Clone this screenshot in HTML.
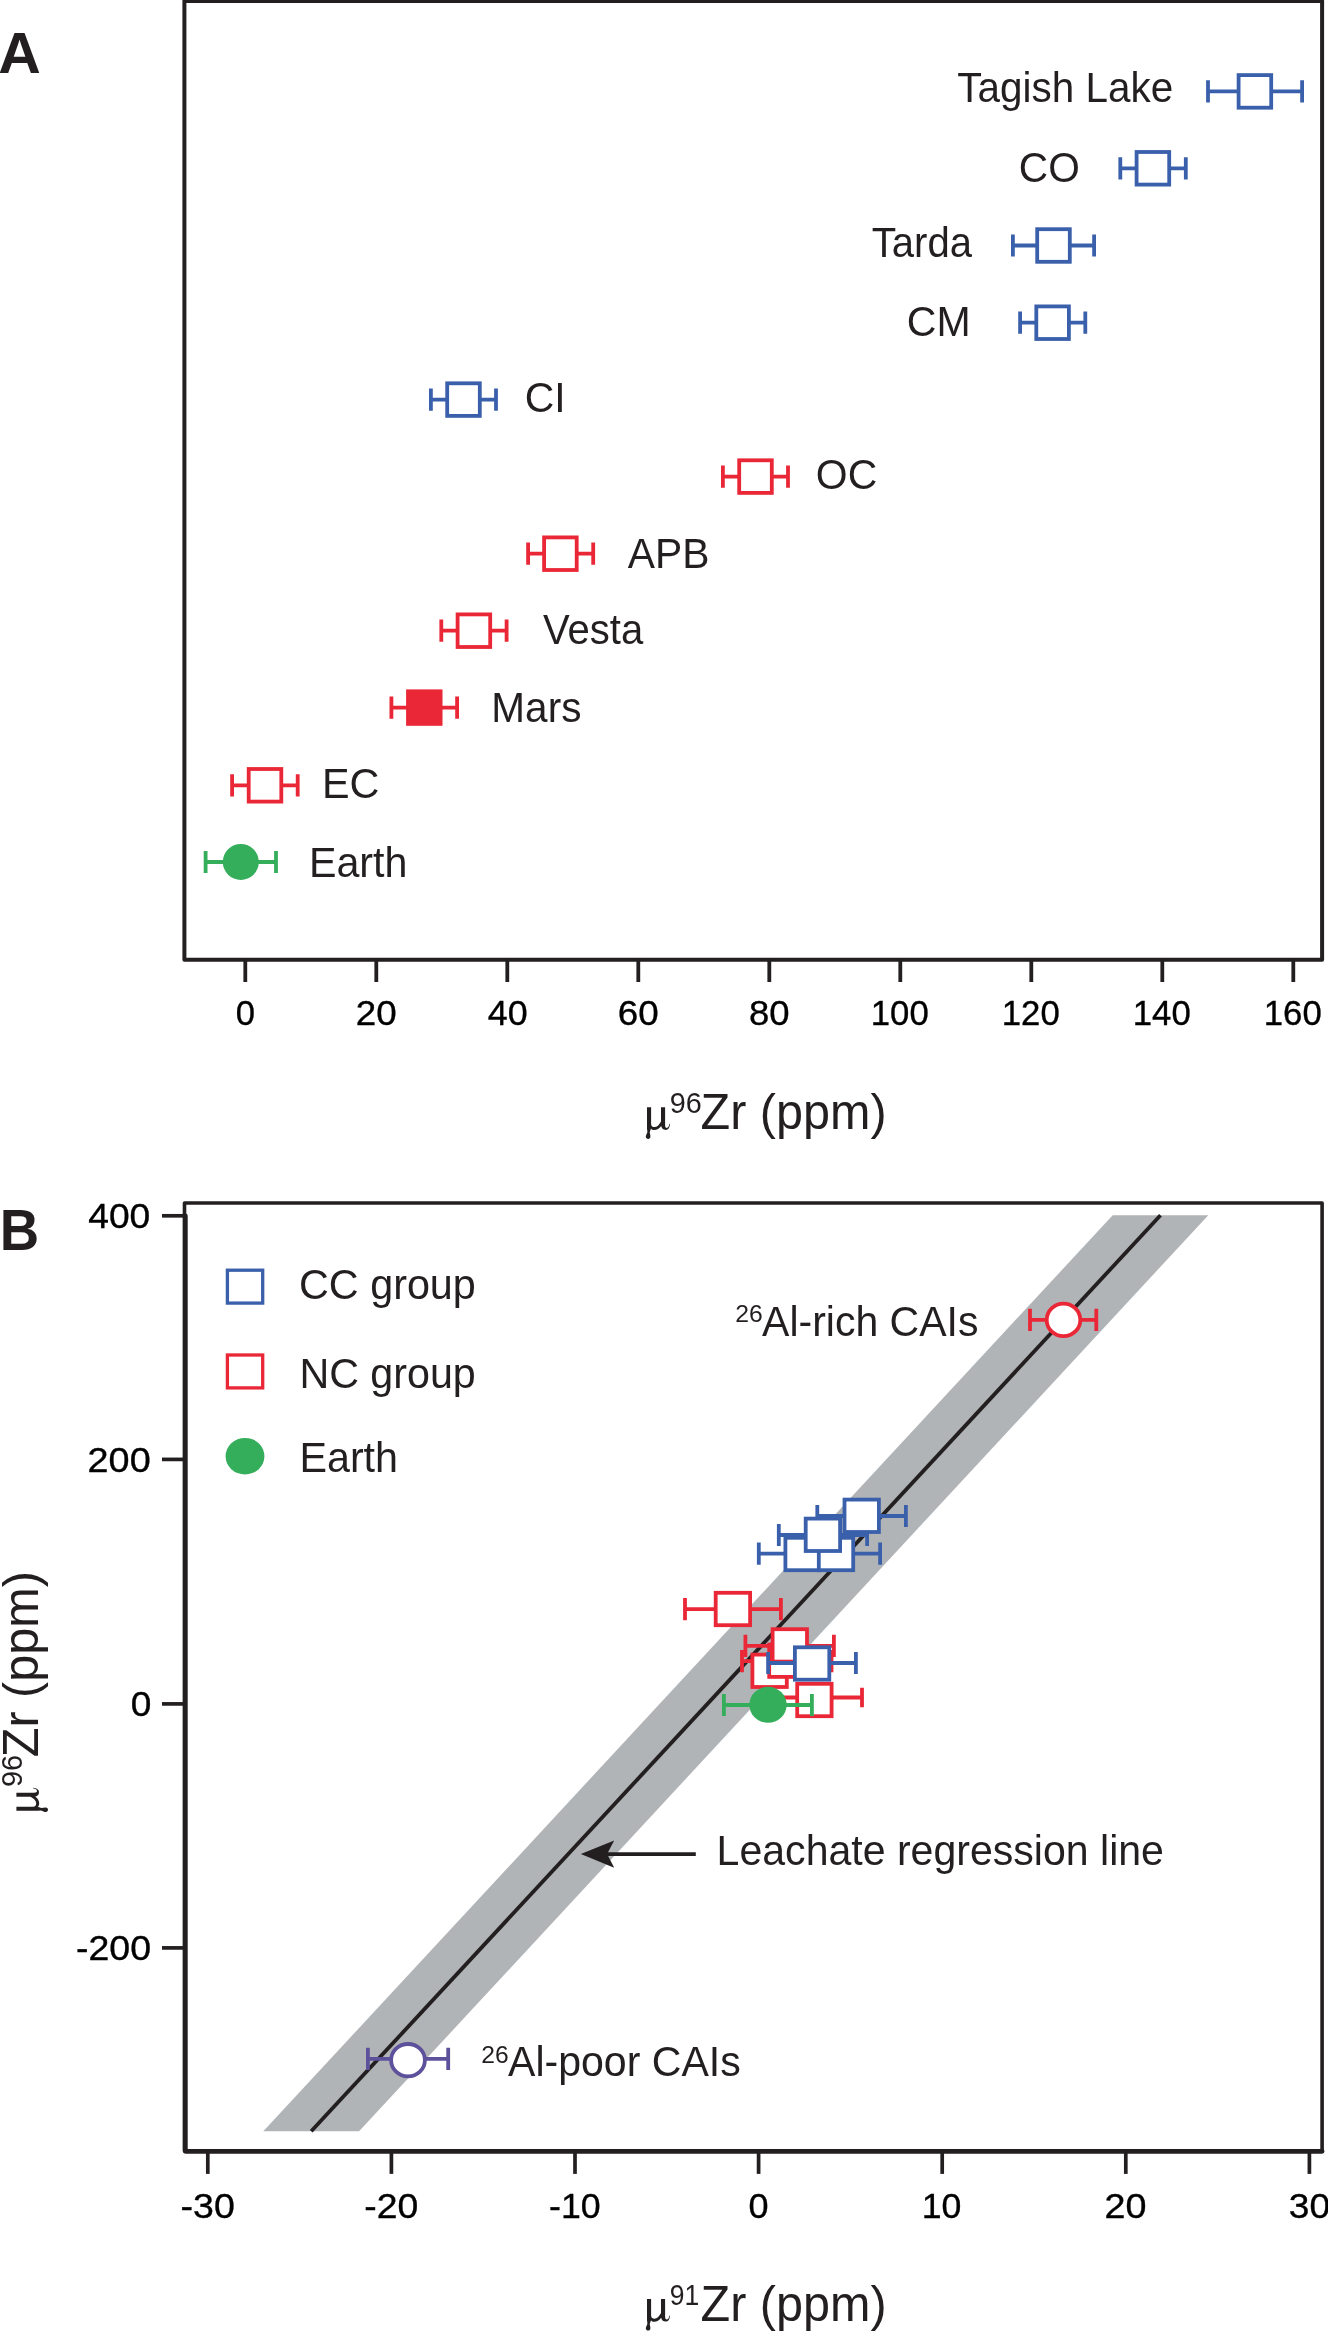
<!DOCTYPE html>
<html><head><meta charset="utf-8"><title>Figure</title>
<style>
html,body{margin:0;padding:0;background:#fff;}
svg{display:block;will-change:transform;font-family:"Liberation Sans",sans-serif;}
</style></head>
<body>
<svg width="1328" height="2332" viewBox="0 0 1328 2332">
<rect width="1328" height="2332" fill="#fff"/>
<path d="M184.4 959.7V1H1322.1V959.7Z" fill="none" stroke="#231f20" stroke-width="4" stroke-linejoin="round"/>
<path d="M245.3 959.7V982" stroke="#231f20" stroke-width="3.8"/>
<text transform="translate(235.77 1025.20) scale(0.9706 1)" font-size="35.6" fill="#000" stroke="#000" stroke-width="0.35">0</text>
<path d="M376.3 959.7V982" stroke="#231f20" stroke-width="3.8"/>
<text transform="translate(355.76 1025.20) scale(1.0329 1)" font-size="35.6" fill="#000" stroke="#000" stroke-width="0.35">20</text>
<path d="M507.3 959.7V982" stroke="#231f20" stroke-width="3.8"/>
<text transform="translate(487.79 1025.20) scale(1.0059 1)" font-size="35.6" fill="#000" stroke="#000" stroke-width="0.35">40</text>
<path d="M638.3 959.7V982" stroke="#231f20" stroke-width="3.8"/>
<text transform="translate(617.76 1025.20) scale(1.0329 1)" font-size="35.6" fill="#000" stroke="#000" stroke-width="0.35">60</text>
<path d="M769.3 959.7V982" stroke="#231f20" stroke-width="3.8"/>
<text transform="translate(749.05 1025.20) scale(1.0254 1)" font-size="35.6" fill="#000" stroke="#000" stroke-width="0.35">80</text>
<path d="M900.3 959.7V982" stroke="#231f20" stroke-width="3.8"/>
<text transform="translate(870.80 1025.20) scale(0.9755 1)" font-size="35.6" fill="#000" stroke="#000" stroke-width="0.35">100</text>
<path d="M1031.3 959.7V982" stroke="#231f20" stroke-width="3.8"/>
<text transform="translate(1001.80 1025.20) scale(0.9755 1)" font-size="35.6" fill="#000" stroke="#000" stroke-width="0.35">120</text>
<path d="M1162.3 959.7V982" stroke="#231f20" stroke-width="3.8"/>
<text transform="translate(1132.80 1025.20) scale(0.9755 1)" font-size="35.6" fill="#000" stroke="#000" stroke-width="0.35">140</text>
<path d="M1293.3 959.7V982" stroke="#231f20" stroke-width="3.8"/>
<text transform="translate(1263.80 1025.20) scale(0.9755 1)" font-size="35.6" fill="#000" stroke="#000" stroke-width="0.35">160</text>
<path d="M1208.0 91.4H1302.1M1208.0 80.3V102.5M1302.1 80.3V102.5" stroke="#3a60ab" stroke-width="3.8" fill="none"/>
<rect x="1238.6" y="75.1" width="32.6" height="32.6" fill="#fff" stroke="#3a60ab" stroke-width="3.8"/>
<text transform="translate(957.29 101.90) scale(0.9678 1)" font-size="41.8" fill="#231f20">Tagish Lake</text>
<path d="M1120.3 168.3H1185.8M1120.3 157.2V179.4M1185.8 157.2V179.4" stroke="#3a60ab" stroke-width="3.8" fill="none"/>
<rect x="1136.6" y="152.0" width="32.6" height="32.6" fill="#fff" stroke="#3a60ab" stroke-width="3.8"/>
<text transform="translate(1018.87 181.50) scale(0.9723 1)" font-size="41.8" fill="#231f20">CO</text>
<path d="M1012.9 245.5H1094.1M1012.9 234.4V256.6M1094.1 234.4V256.6" stroke="#3a60ab" stroke-width="3.8" fill="none"/>
<rect x="1037.2" y="229.2" width="32.6" height="32.6" fill="#fff" stroke="#3a60ab" stroke-width="3.8"/>
<text transform="translate(871.80 256.80) scale(0.9589 1)" font-size="41.8" fill="#231f20">Tarda</text>
<path d="M1020.1 322.7H1085.3M1020.1 311.6V333.8M1085.3 311.6V333.8" stroke="#3a60ab" stroke-width="3.8" fill="none"/>
<rect x="1036.3" y="306.4" width="32.6" height="32.6" fill="#fff" stroke="#3a60ab" stroke-width="3.8"/>
<text transform="translate(906.75 335.90) scale(0.9822 1)" font-size="41.8" fill="#231f20">CM</text>
<path d="M430.9 399.6H496.0M430.9 388.5V410.7M496.0 388.5V410.7" stroke="#3a60ab" stroke-width="3.8" fill="none"/>
<rect x="447.2" y="383.3" width="32.6" height="32.6" fill="#fff" stroke="#3a60ab" stroke-width="3.8"/>
<text transform="translate(524.65 411.50) scale(0.9793 1)" font-size="41.8" fill="#231f20">CI</text>
<path d="M722.9 476.6H788.0M722.9 465.5V487.7M788.0 465.5V487.7" stroke="#ea2736" stroke-width="3.8" fill="none"/>
<rect x="739.2" y="460.3" width="32.6" height="32.6" fill="#fff" stroke="#ea2736" stroke-width="3.8"/>
<text transform="translate(815.86 488.90) scale(0.9790 1)" font-size="41.8" fill="#231f20">OC</text>
<path d="M528.1 553.7H593.2M528.1 542.6V564.8M593.2 542.6V564.8" stroke="#ea2736" stroke-width="3.8" fill="none"/>
<rect x="544.1" y="537.4" width="32.6" height="32.6" fill="#fff" stroke="#ea2736" stroke-width="3.8"/>
<text transform="translate(627.70 567.80) scale(0.9766 1)" font-size="41.8" fill="#231f20">APB</text>
<path d="M441.3 630.7H506.6M441.3 619.6V641.8M506.6 619.6V641.8" stroke="#ea2736" stroke-width="3.8" fill="none"/>
<rect x="457.6" y="614.4" width="32.6" height="32.6" fill="#fff" stroke="#ea2736" stroke-width="3.8"/>
<text transform="translate(543.10 643.70) scale(0.9579 1)" font-size="41.8" fill="#231f20">Vesta</text>
<path d="M391.4 707.6H457.1M391.4 696.5V718.7M457.1 696.5V718.7" stroke="#ea2736" stroke-width="3.8" fill="none"/>
<rect x="408.0" y="691.3" width="32.6" height="32.6" fill="#ea2736" stroke="#ea2736" stroke-width="3.8"/>
<text transform="translate(491.36 721.80) scale(0.9694 1)" font-size="41.8" fill="#231f20">Mars</text>
<path d="M232.1 785.3H297.7M232.1 774.2V796.4M297.7 774.2V796.4" stroke="#ea2736" stroke-width="3.8" fill="none"/>
<rect x="248.7" y="769.0" width="32.6" height="32.6" fill="#fff" stroke="#ea2736" stroke-width="3.8"/>
<text transform="translate(321.89 798.00) scale(0.9890 1)" font-size="41.8" fill="#231f20">EC</text>
<path d="M205.6 862.0H276.0M205.6 850.9V873.1M276.0 850.9V873.1" stroke="#35ae5c" stroke-width="3.8" fill="none"/>
<ellipse cx="240.8" cy="861.9" rx="18.0" ry="18.0" fill="#35ae5c"/>
<text transform="translate(308.90 876.90) scale(0.9868 1)" font-size="41.8" fill="#231f20">Earth</text>
<text transform="translate(-1.77 72.70) scale(1.0435 1)" font-size="56.5" fill="#231f20" font-weight="bold">A</text>
<path transform="translate(644.8 1128.9)" d="M2.2,-21.6H6.3V-5C6.3,-2.6 8,-1.8 9.8,-1.8C12,-1.8 14.5,-4 16.2,-7.5V-21.6H20.3V-4C20.3,-1.8 21,-1 22,-1C23.3,-1 24.2,-2.5 24.7,-5.1L25.3,-4.9C24.8,-1 23.3,1 21,1C18.5,1 17,-0.2 16.4,-2.8C14.5,-0.2 12,1.2 9.5,1.2C8,1.2 6.8,0.7 6.2,-0.3L4.9,3.4C5.2,5 5.7,6.3 5.6,7.9C5.5,9.2 4.6,10 3.4,10C2.1,10 1.1,9.2 1,7.9C0.9,6.3 2.2,5 2.6,3.1L2.2,-0.5Z" fill="#231f20"/>
<text transform="translate(645.8 1128.9)" font-family="Liberation Serif, serif" font-size="44" fill="none">μ</text>
<text transform="translate(669.63 1113.10) scale(0.9804 1)" font-size="29.4" fill="#231f20">96</text>
<text transform="translate(700.52 1128.90) scale(0.9850 1)" font-size="49.3" fill="#231f20">Zr (ppm)</text>
<polygon points="263.3,2131.3 359.1,2131.3 1208.3,1215.2 1112.7,1215.2" fill="#b1b4b6"/>
<path d="M311.2 2131.3L1160.5 1215.2" stroke="#231f20" stroke-width="3.8"/>
<path d="M685.0 1609.1H780.9M685.0 1598.0V1620.2M780.9 1598.0V1620.2" stroke="#ea2736" stroke-width="3.8" fill="none"/>
<path d="M745.4 1645.9H833.9M745.4 1634.8V1657.0M833.9 1634.8V1657.0" stroke="#ea2736" stroke-width="3.8" fill="none"/>
<path d="M742.0 1661.2H831.5M742.0 1650.1V1672.3M831.5 1650.1V1672.3" stroke="#ea2736" stroke-width="3.8" fill="none"/>
<path d="M766.8 1697.5H862.0M766.8 1687.7V1707.3M862.0 1687.7V1707.3" stroke="#ea2736" stroke-width="3.8" fill="none"/>
<rect x="752.4" y="1654.6" width="34.4" height="32.4" fill="#fff" stroke="#ea2736" stroke-width="3.8"/>
<rect x="769.2" y="1644.5" width="34.4" height="32.4" fill="#fff" stroke="#ea2736" stroke-width="3.8"/>
<rect x="772.6" y="1629.2" width="34.4" height="32.4" fill="#fff" stroke="#ea2736" stroke-width="3.8"/>
<rect x="715.7" y="1592.8" width="34.4" height="32.4" fill="#fff" stroke="#ea2736" stroke-width="3.8"/>
<rect x="797.2" y="1683.8" width="34.4" height="32.4" fill="#fff" stroke="#ea2736" stroke-width="3.8"/>
<path d="M768.1 1663.0H855.9M768.1 1651.9V1674.1M855.9 1651.9V1674.1" stroke="#3a60ab" stroke-width="3.8" fill="none"/>
<path d="M758.8 1553.7H845.0M758.8 1542.6V1564.8M845.0 1542.6V1564.8" stroke="#3a60ab" stroke-width="3.8" fill="none"/>
<path d="M792.2 1553.7H880.1M792.2 1542.6V1564.8M880.1 1542.6V1564.8" stroke="#3a60ab" stroke-width="3.8" fill="none"/>
<path d="M778.8 1535.0H867.1M778.8 1523.9V1546.1M867.1 1523.9V1546.1" stroke="#3a60ab" stroke-width="3.8" fill="none"/>
<path d="M817.3 1516.0H905.9M817.3 1504.9V1527.1M905.9 1504.9V1527.1" stroke="#3a60ab" stroke-width="3.8" fill="none"/>
<rect x="794.9" y="1647.3" width="34.4" height="32.4" fill="#fff" stroke="#3a60ab" stroke-width="3.8"/>
<rect x="785.4" y="1537.8" width="34.4" height="32.4" fill="#fff" stroke="#3a60ab" stroke-width="3.8"/>
<rect x="818.8" y="1537.8" width="34.4" height="32.4" fill="#fff" stroke="#3a60ab" stroke-width="3.8"/>
<rect x="805.7" y="1518.6" width="34.4" height="32.4" fill="#fff" stroke="#3a60ab" stroke-width="3.8"/>
<rect x="844.5" y="1499.6" width="34.4" height="32.4" fill="#fff" stroke="#3a60ab" stroke-width="3.8"/>
<path d="M723.9 1705.0H811.9M723.9 1693.9V1716.1M811.9 1693.9V1716.1" stroke="#35ae5c" stroke-width="3.8" fill="none"/>
<ellipse cx="768.0" cy="1704.8" rx="18.7" ry="18.0" fill="#35ae5c"/>
<path d="M1030.0 1319.9H1096.3M1030.0 1308.8V1331.0M1096.3 1308.8V1331.0" stroke="#ea2736" stroke-width="3.8" fill="none"/>
<ellipse cx="1063.5" cy="1319.9" rx="16.8" ry="16.3" fill="#fff" stroke="#ea2736" stroke-width="3.8"/>
<path d="M367.9 2058.9H448.2M367.9 2047.8V2070.0M448.2 2047.8V2070.0" stroke="#5c519a" stroke-width="3.8" fill="none"/>
<ellipse cx="408.0" cy="2060.2" rx="16.9" ry="16.2" fill="#fff" stroke="#5c519a" stroke-width="3.8"/>
<path d="M184.5 2151V1203H1322.1V2151Z" fill="none" stroke="#231f20" stroke-width="3.6" stroke-linejoin="round"/>
<path d="M185.3 1215.8V2151.35H1322.1" fill="none" stroke="#231f20" stroke-width="4.8" stroke-linejoin="round" stroke-linecap="round"/>
<path d="M162 1215.8H185.3" stroke="#231f20" stroke-width="3.7"/>
<text transform="translate(88.26 1228.00) scale(1.0420 1)" font-size="35.7" fill="#000" stroke="#000" stroke-width="0.35">400</text>
<path d="M162 1459.4H185.3" stroke="#231f20" stroke-width="3.7"/>
<text transform="translate(87.61 1471.60) scale(1.0584 1)" font-size="35.7" fill="#000" stroke="#000" stroke-width="0.35">200</text>
<path d="M162 1703.9H185.3" stroke="#231f20" stroke-width="3.7"/>
<text transform="translate(130.72 1716.10) scale(1.0383 1)" font-size="35.7" fill="#000" stroke="#000" stroke-width="0.35">0</text>
<path d="M162 1947.9H185.3" stroke="#231f20" stroke-width="3.7"/>
<text transform="translate(76.01 1960.10) scale(1.0503 1)" font-size="35.7" fill="#000" stroke="#000" stroke-width="0.35">-200</text>
<path d="M207.8 2151.2V2173.9" stroke="#231f20" stroke-width="3.7"/>
<text transform="translate(180.56 2217.70) scale(1.0505 1)" font-size="35.7" fill="#000" stroke="#000" stroke-width="0.35">-30</text>
<path d="M391.4 2151.2V2173.9" stroke="#231f20" stroke-width="3.7"/>
<text transform="translate(364.27 2217.70) scale(1.0464 1)" font-size="35.7" fill="#000" stroke="#000" stroke-width="0.35">-20</text>
<path d="M575.0 2151.2V2173.9" stroke="#231f20" stroke-width="3.7"/>
<text transform="translate(549.09 2217.70) scale(0.9992 1)" font-size="35.7" fill="#000" stroke="#000" stroke-width="0.35">-10</text>
<path d="M758.6 2151.2V2173.9" stroke="#231f20" stroke-width="3.7"/>
<text transform="translate(748.56 2217.70) scale(1.0090 1)" font-size="35.7" fill="#000" stroke="#000" stroke-width="0.35">0</text>
<path d="M942.2 2151.2V2173.9" stroke="#231f20" stroke-width="3.7"/>
<text transform="translate(921.72 2217.70) scale(0.9997 1)" font-size="35.7" fill="#000" stroke="#000" stroke-width="0.35">10</text>
<path d="M1125.8 2151.2V2173.9" stroke="#231f20" stroke-width="3.7"/>
<text transform="translate(1104.61 2217.70) scale(1.0574 1)" font-size="35.7" fill="#000" stroke="#000" stroke-width="0.35">20</text>
<path d="M1309.4 2151.2V2173.9" stroke="#231f20" stroke-width="3.7"/>
<text transform="translate(1288.81 2217.70) scale(1.0393 1)" font-size="35.7" fill="#000" stroke="#000" stroke-width="0.35">30</text>
<rect x="227.4" y="1270.2" width="35.3" height="32.9" fill="#fff" stroke="#3a60ab" stroke-width="3.3"/>
<rect x="227.4" y="1355.0" width="35.3" height="32.9" fill="#fff" stroke="#ea2736" stroke-width="3.3"/>
<ellipse cx="245.0" cy="1456.2" rx="19.4" ry="18.3" fill="#35ae5c"/>
<text transform="translate(299.03 1298.50) scale(0.9767 1)" font-size="42.3" fill="#231f20">CC group</text>
<text transform="translate(299.40 1388.10) scale(0.9746 1)" font-size="42.3" fill="#231f20">NC group</text>
<text transform="translate(299.39 1471.50) scale(0.9762 1)" font-size="42.3" fill="#231f20">Earth</text>
<text transform="translate(735.16 1321.70) scale(1.0494 1)" font-size="23.6" fill="#231f20">26</text>
<text transform="translate(762.10 1336.00) scale(0.9691 1)" font-size="42.3" fill="#231f20">Al-rich CAIs</text>
<text transform="translate(481.27 2062.90) scale(1.0453 1)" font-size="23.6" fill="#231f20">26</text>
<text transform="translate(508.10 2076.20) scale(0.9704 1)" font-size="42.3" fill="#231f20">Al-poor CAIs</text>
<text transform="translate(716.61 1865.00) scale(0.9709 1)" font-size="42.3" fill="#231f20">Leachate regression line</text>
<path d="M606.5 1854.1H695.8" stroke="#231f20" stroke-width="3.8"/>
<path d="M580.8 1854.1L614.2 1840.6L607.1 1854.1L614.2 1867.7Z" fill="#231f20"/>
<text transform="translate(-0.18 1249.50) scale(0.9662 1)" font-size="56.5" fill="#231f20" font-weight="bold">B</text>
<path transform="translate(644.8 2320.6)" d="M2.2,-21.6H6.3V-5C6.3,-2.6 8,-1.8 9.8,-1.8C12,-1.8 14.5,-4 16.2,-7.5V-21.6H20.3V-4C20.3,-1.8 21,-1 22,-1C23.3,-1 24.2,-2.5 24.7,-5.1L25.3,-4.9C24.8,-1 23.3,1 21,1C18.5,1 17,-0.2 16.4,-2.8C14.5,-0.2 12,1.2 9.5,1.2C8,1.2 6.8,0.7 6.2,-0.3L4.9,3.4C5.2,5 5.7,6.3 5.6,7.9C5.5,9.2 4.6,10 3.4,10C2.1,10 1.1,9.2 1,7.9C0.9,6.3 2.2,5 2.6,3.1L2.2,-0.5Z" fill="#231f20"/>
<text transform="translate(645.8 2320.6)" font-family="Liberation Serif, serif" font-size="44" fill="none">μ</text>
<text transform="translate(669.74 2304.80) scale(0.9014 1)" font-size="29.4" fill="#231f20">91</text>
<text transform="translate(700.52 2320.60) scale(0.9850 1)" font-size="49.3" fill="#231f20">Zr (ppm)</text>
<path transform="translate(38.0 1813.0) rotate(-90) translate(0.0 0.0)" d="M2.2,-21.6H6.3V-5C6.3,-2.6 8,-1.8 9.8,-1.8C12,-1.8 14.5,-4 16.2,-7.5V-21.6H20.3V-4C20.3,-1.8 21,-1 22,-1C23.3,-1 24.2,-2.5 24.7,-5.1L25.3,-4.9C24.8,-1 23.3,1 21,1C18.5,1 17,-0.2 16.4,-2.8C14.5,-0.2 12,1.2 9.5,1.2C8,1.2 6.8,0.7 6.2,-0.3L4.9,3.4C5.2,5 5.7,6.3 5.6,7.9C5.5,9.2 4.6,10 3.4,10C2.1,10 1.1,9.2 1,7.9C0.9,6.3 2.2,5 2.6,3.1L2.2,-0.5Z" fill="#231f20"/>
<text transform="translate(38.0 1813.0) rotate(-90) translate(1.0 0.0)" font-family="Liberation Serif, serif" font-size="44" fill="none">μ</text>
<text transform="translate(38.0 1813.0) rotate(-90) translate(26.03 -15.80) scale(0.9804 1)" font-size="29.4" fill="#231f20">96</text>
<text transform="translate(38.0 1813.0) rotate(-90) translate(55.72 0.00) scale(0.9850 1)" font-size="49.3" fill="#231f20">Zr (ppm)</text>
</svg>
</body></html>
